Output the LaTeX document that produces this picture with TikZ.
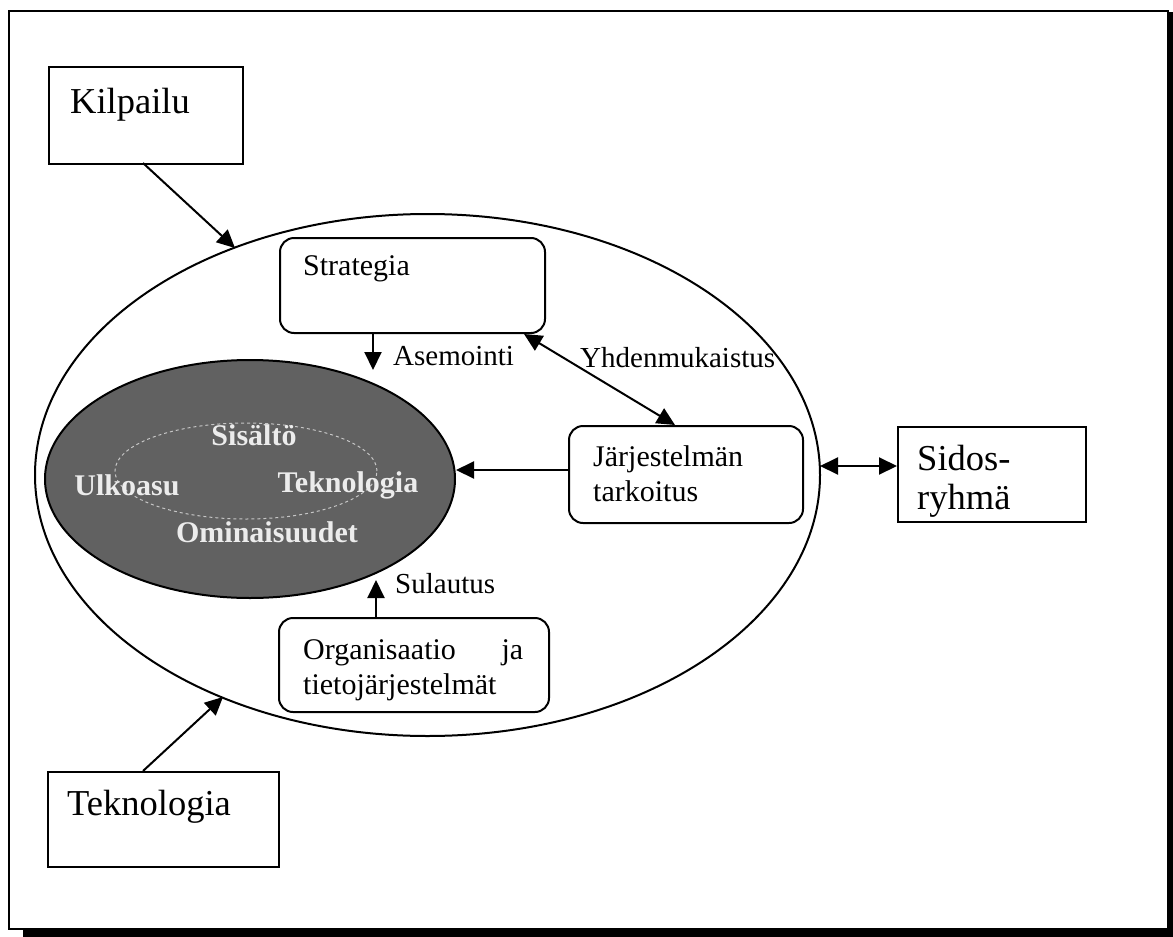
\documentclass[tikz,border=0pt]{standalone}
\usepackage{fontspec}
\setmainfont{Liberation Serif}
\usetikzlibrary{arrows.meta,shapes.geometric}
\begin{document}
\begin{tikzpicture}[x=1pt,y=-1pt,
  sqbox/.style={draw, line width=2pt, rectangle, inner sep=0pt, anchor=north west},
  rbox/.style={draw, line width=2pt, rectangle, rounded corners=14pt, inner sep=0pt, anchor=north west},
  bigtxt/.style={font=\fontsize{36.5}{39}\selectfont, inner sep=0pt, anchor=north west, align=left},
  boxtxt/.style={font=\fontsize{30}{35}\selectfont, inner sep=0pt, anchor=north west, align=left},
  lbltxt/.style={font=\fontsize{29}{30}\selectfont, inner sep=0pt, anchor=base west},
  coretxt/.style={font=\bfseries\fontsize{30}{32}\selectfont, text=gray!15, inner sep=0pt},
  link/.style={line width=2pt, -{Triangle[length=18pt,width=17pt]}},
  link2/.style={line width=2pt, {Triangle[length=18pt,width=17pt]}-{Triangle[length=18pt,width=17pt]}},
]
\useasboundingbox (0,0) rectangle (1173,937);

% page frame with drop shadow
\draw[line width=2pt] (9,11) rectangle (1168,929);
\fill (23,929) rectangle (1173,937);
\fill (1167,12) rectangle (1173,937);

% large system ellipse
\node[draw, line width=2pt, ellipse, minimum width=785pt, minimum height=522pt, inner sep=0pt]
  (outer) at (427.5,475) {};

% shaded core ellipse
\node[draw, line width=2pt, ellipse, fill=black!62, minimum width=410pt, minimum height=238pt, inner sep=0pt]
  (core) at (250,479) {};
\node[draw=gray!45, dashed, line width=1pt, ellipse, minimum width=262pt, minimum height=96pt, inner sep=0pt]
  (inner) at (246,471) {};
\node[coretxt] (sis) at (254,435) {Sisältö};
\node[coretxt] (ulk) at (127,485) {Ulkoasu};
\node[coretxt] (tek) at (348,485) {Teknologia};
\node[coretxt] (omi) at (267,532) {Ominaisuudet};

% outer boxes
\node[sqbox, minimum width=194pt, minimum height=97pt] (kil) at (48,66) {};
\node[bigtxt] (kilT) at ([xshift=22pt,yshift=-22pt]kil.north west) {Kilpailu};

\node[sqbox, minimum width=231pt, minimum height=95pt] (tekb) at (47,771) {};
\node[bigtxt] (tekT) at ([xshift=20pt,yshift=-19pt]tekb.north west) {Teknologia};

\node[sqbox, minimum width=188pt, minimum height=95pt] (sid) at (897,426) {};
\node[bigtxt] (sidT) at ([xshift=20pt,yshift=-19pt]sid.north west) {Sidos-\\ryhmä};

% inner boxes
\node[rbox, minimum width=265pt, minimum height=95pt] (str) at (279,237) {};
\node[boxtxt] (strT) at ([xshift=24pt,yshift=-18pt]str.north west) {Strategia};

\node[rbox, minimum width=234pt, minimum height=97pt] (jar) at (568,425) {};
\node[boxtxt] (jarT) at ([xshift=25pt,yshift=-20pt]jar.north west) {Järjestelmän\\tarkoitus};

\node[rbox, minimum width=270pt, minimum height=94pt] (org) at (278,617) {};
\node[boxtxt, text width=220pt] (orgT) at ([xshift=25pt,yshift=-22pt]org.north west)
  {Organisaatio\hfill ja\\tietojärjestelmät};

% connector end points
\coordinate (kilFrom) at (143,163);
\coordinate (kilTip) at (235,248);
\coordinate (tekFrom) at (143,771);
\coordinate (tekTip) at (223,697);
\coordinate (sidFrom) at (820,466);
\coordinate (strTip) at (373,370);
\coordinate (orgTip) at (376,580);
\coordinate (jarFrom) at (568,470);

% connectors
\draw[link] (kilFrom) -- (kilTip);
\draw[link] (tekFrom) -- (tekTip);
\draw[link2] (sidFrom) -- (sid.west |- sidFrom);
\draw[link] (strTip |- str.south) -- (strTip);
\draw[link2] ([xshift=-22pt]str.south east) -- ([xshift=107pt]jar.north west);
\draw[link] (jarFrom) -- (core.east |- jarFrom);
\draw[link] (orgTip |- org.north) -- (orgTip);

% connector labels
\node[lbltxt] (ase) at (393,365) {Asemointi};
\node[lbltxt] (yhd) at (580,367) {Yhdenmukaistus};
\node[lbltxt] (sul) at (395,593) {Sulautus};
\end{tikzpicture}
\end{document}
